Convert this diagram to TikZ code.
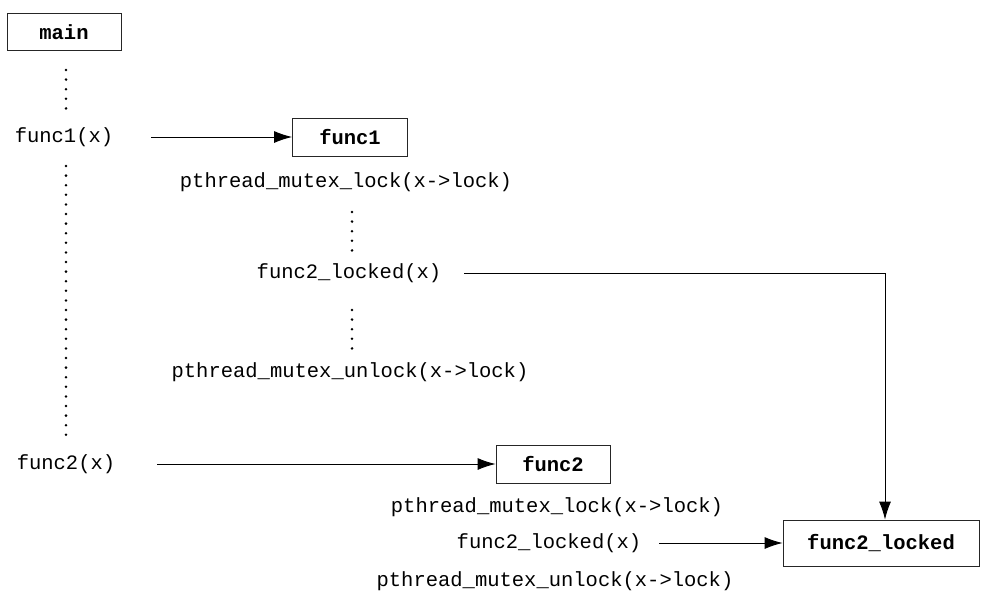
\documentclass[tikz,border=0pt]{standalone}
\usepackage{fontspec}
\setmonofont{Liberation Mono}
\usetikzlibrary{arrows.meta}
\begin{document}
\begin{tikzpicture}[x=1pt,y=-1pt,
  code/.style={font=\ttfamily\fontsize{20.5}{24}\selectfont, inner sep=0pt},
  fnbox/.style={draw=black!85, line width=0.9pt,
    font=\ttfamily\bfseries\fontsize{20.5}{24}\selectfont, inner sep=0pt},
  arr/.style={line width=0.9pt, -{Latex[length=18pt,width=12pt]}},
  dotcol/.style={line width=2.8pt, line cap=round, dash pattern=on 0pt off 9.6pt},
]
\useasboundingbox (0,0) rectangle (981,594);

% call boxes
\node[fnbox, minimum width=114pt, minimum height=37pt] (main) at (64,32) {main};
\node[fnbox, minimum width=115pt, minimum height=38pt] (f1box) at (350,137) {func1};
\node[fnbox, minimum width=114pt, minimum height=38pt] (f2box) at (553,464) {func2};
\node[fnbox, minimum width=196pt, minimum height=46pt] (f2lbox) at (881,543) {func2\_locked};

% statements
\node[code] (f1call) at (64,137) {func1(x)};
\node[code] (lock1) at (346,182) {pthread\_mutex\_lock(x->lock)};
\node[code] (f2lcall1) at (349,273) {func2\_locked(x)};
\node[code] (unlock1) at (350,372) {pthread\_mutex\_unlock(x->lock)};
\node[code] (f2call) at (66,464) {func2(x)};
\node[code] (lock2) at (557,507) {pthread\_mutex\_lock(x->lock)};
\node[code] (f2lcall2) at (549,543) {func2\_locked(x)};
\node[code] (unlock2) at (555,581) {pthread\_mutex\_unlock(x->lock)};

% elided code
\draw[dotcol] (66,70) -- (66,108.5);
\draw[dotcol] (66,166) -- (66,437.5);
\draw[dotcol] (352,212) -- (352,251);
\draw[dotcol] (352,310) -- (352,349);

% calls
\draw[arr, shorten <=38pt] (f1call.east) -- (f1box.west);
\draw[arr, shorten <=42pt] (f2call.east) -- (f2box.west);
\draw[arr, shorten <=23pt] (f2lcall1.east) -| ([xshift=4pt]f2lbox.north);
\draw[arr, shorten <=18pt] (f2lcall2.east) -- (f2lbox.west);
\end{tikzpicture}
\end{document}
